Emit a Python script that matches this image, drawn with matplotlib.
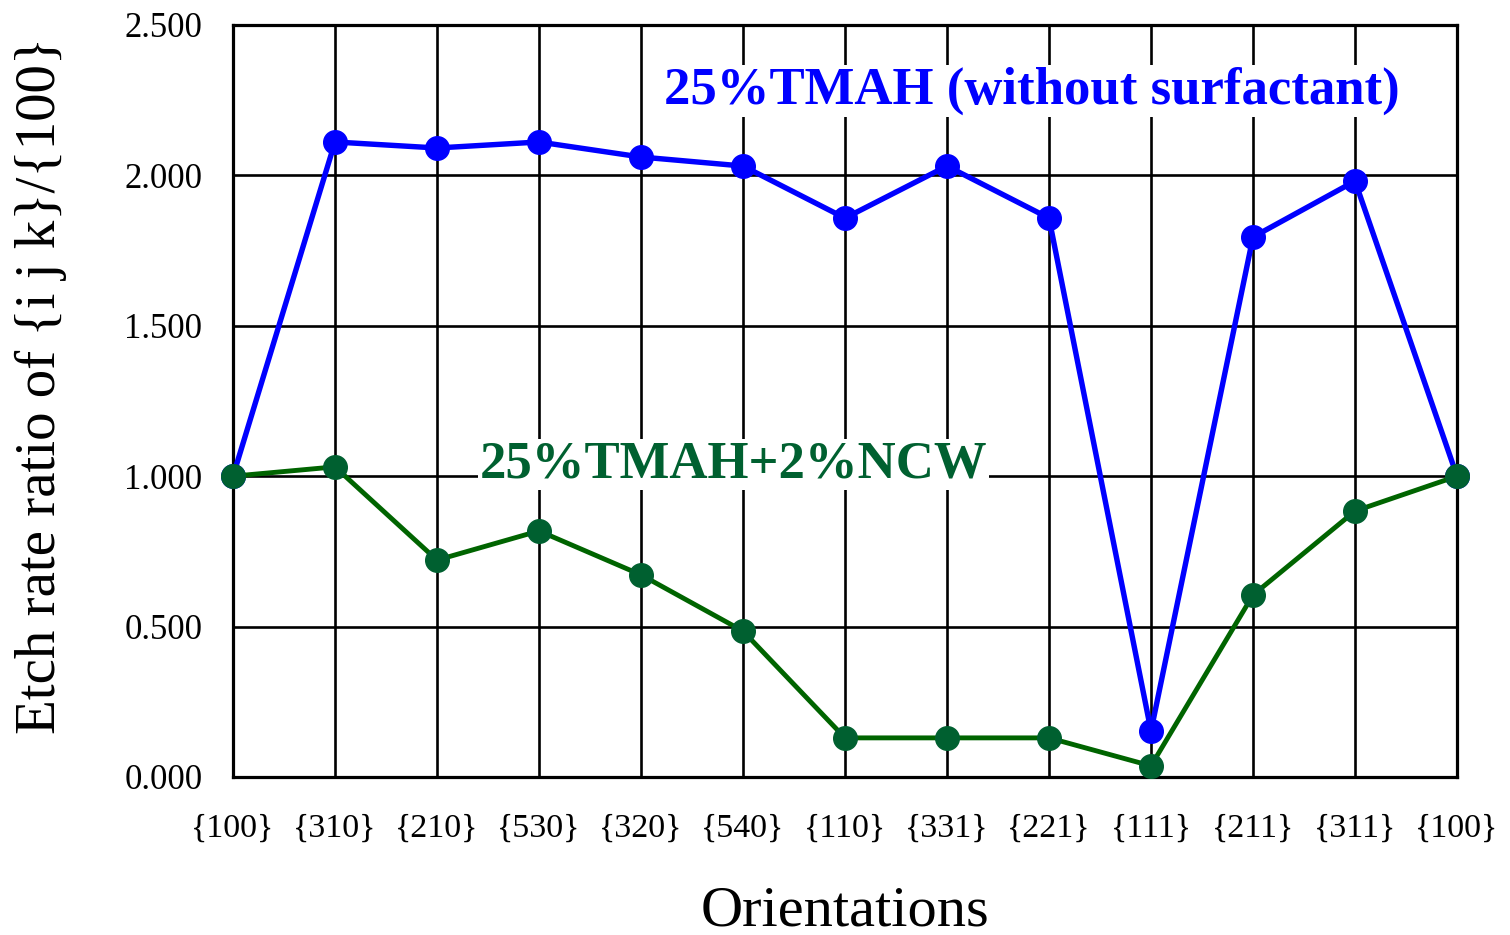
import matplotlib.pyplot as plt
import numpy as np

plt.rcParams['font.family'] = ['Liberation Serif', 'DejaVu Serif']

orientations = ['{100}', '{310}', '{210}', '{530}', '{320}', '{540}', '{110}',
                '{331}', '{221}', '{111}', '{211}', '{311}', '{100}']
tmah = [1.000, 2.111, 2.091, 2.111, 2.061, 2.031, 1.858,
        2.031, 1.858, 0.153, 1.795, 1.981, 1.000]
tmah_ncw = [1.000, 1.031, 0.721, 0.818, 0.672, 0.485, 0.130,
            0.130, 0.130, 0.037, 0.605, 0.884, 1.000]

x = np.arange(len(orientations))

fig = plt.figure(figsize=(15.1, 9.35), dpi=100)
ax = fig.add_axes([0.1543, 0.169, 0.8106, 0.8043])

ax.plot(x, tmah, color='#0000ff', lw=3.9, marker='o', ms=17,
        zorder=4, clip_on=False)
ax.plot(x, tmah_ncw, color='#006400', lw=3.5, marker='o', ms=17,
        mfc='#006030', mec='#006030', zorder=5, clip_on=False)

ax.set_xlim(0, len(x) - 1)
ax.set_ylim(0, 2.5)
ax.set_xticks(x)
ax.set_xticklabels(orientations, fontsize=24.5)
ax.set_yticks(np.arange(0, 2.51, 0.5))
ax.set_yticklabels(['{:.3f}'.format(v) for v in np.arange(0, 2.51, 0.5)], fontsize=25)
ax.tick_params(axis='x', length=0, pad=26)
ax.tick_params(axis='y', length=0, pad=22)
ax.grid(True, color='black', lw=1.9)
ax.set_axisbelow(True)
for s in ax.spines.values():
    s.set_linewidth(2.3)

ax.set_xlabel('Orientations', fontsize=42, labelpad=30)
ax.set_ylabel('Etch rate ratio of {i j k}/{100}', fontsize=41)
ax.yaxis.set_label_coords(-0.136, 0.521)

ax.text(7.83, 2.28, '25%TMAH (without surfactant)', color='#0000ff',
        fontsize=38, fontweight='bold', ha='center', va='center', zorder=6,
        bbox=dict(facecolor='white', edgecolor='none', pad=1))
ax.text(4.91, 1.04, '25%TMAH+2%NCW', color='#006030',
        fontsize=38, fontweight='bold', ha='center', va='center', zorder=6,
        bbox=dict(facecolor='white', edgecolor='none', pad=1))

fig.savefig('out.png', dpi=100)
